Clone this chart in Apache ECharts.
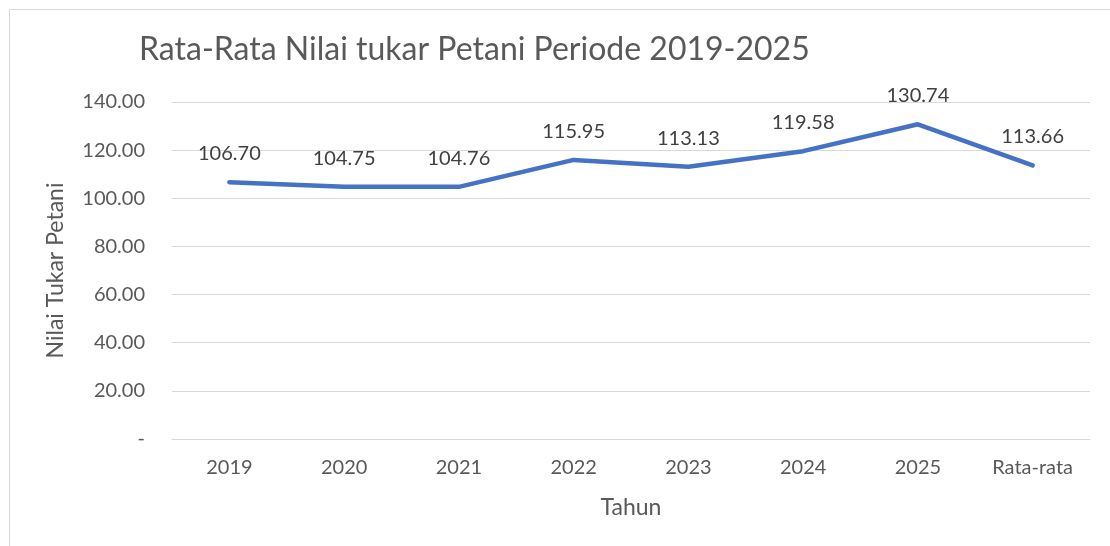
<!DOCTYPE html>
<html><head><meta charset="utf-8">
<script src="https://cdn.jsdelivr.net/npm/echarts@6/dist/echarts.min.js"></script>
<style>html,body{margin:0;padding:0;background:#fff}#c{width:1110px;height:546px}</style>
</head><body><div id="c"></div>
<script>
const categories = ['2019','2020','2021','2022','2023','2024','2025','Rata-rata'];
const values = [106.70, 104.75, 104.76, 115.95, 113.13, 119.58, 130.74, 113.66];
const yTicks = {min: 0, max: 140, interval: 20};
const titleText = 'Rata-Rata Nilai tukar Petani Periode 2019-2025';
const xName = 'Tahun';
const yName = 'Nilai Tukar Petani';

const F = 'Lato, Carlito, Calibri, sans-serif';
const chart = echarts.init(document.getElementById('c'));
chart.setOption({
  backgroundColor: '#fff',
  animation: false,
  graphic: [{type:'rect', shape:{x:9.5, y:9.5, width:1200, height:600}, style:{fill:'none', stroke:'#d9d9d9', lineWidth:1}, silent:true}],
  title: {text: titleText, left: 134, top: 29, textStyle: {fontFamily: F, fontSize: 32, fontWeight: 'normal', color: '#595959'}},
  grid: {left: 172, right: 20, top: 102, bottom: 107, containLabel: false},
  xAxis: {
    type: 'category', data: categories, boundaryGap: true,
    name: xName, nameLocation: 'middle', nameGap: 57,
    nameTextStyle: {fontFamily: F, fontSize: 23, color: '#595959'},
    axisLine: {show: true, lineStyle: {color: '#d9d9d9', width: 1}},
    axisTick: {show: false},
    axisLabel: {fontFamily: F, fontSize: 20, color: '#595959', margin: 19}
  },
  yAxis: {
    type: 'value', min: yTicks.min, max: yTicks.max, interval: yTicks.interval,
    name: yName, nameLocation: 'middle', nameGap: 105, nameRotate: 90,
    nameTextStyle: {fontFamily: F, fontSize: 23, color: '#595959'},
    axisLine: {show: false}, axisTick: {show: false},
    splitLine: {lineStyle: {color: '#d9d9d9', width: 1}},
    axisLabel: {fontFamily: F, fontSize: 20, color: '#595959', margin: 27,
      formatter: v => v === 0 ? '-' : v.toFixed(2)}
  },
  series: [{
    type: 'line', data: values, showSymbol: true, symbol: 'circle', symbolSize: 1,
    itemStyle: {color: 'rgba(68,114,196,0)'},
    lineStyle: {color: '#4472C4', width: 4.5, cap: 'round', join: 'round'},
    label: {show: true, position: 'top', distance: 18, fontFamily: F, fontSize: 20, color: '#404040',
      formatter: p => p.value.toFixed(2)},
    labelLayout: {hideOverlap: false}
  }]
});
</script></body></html>
